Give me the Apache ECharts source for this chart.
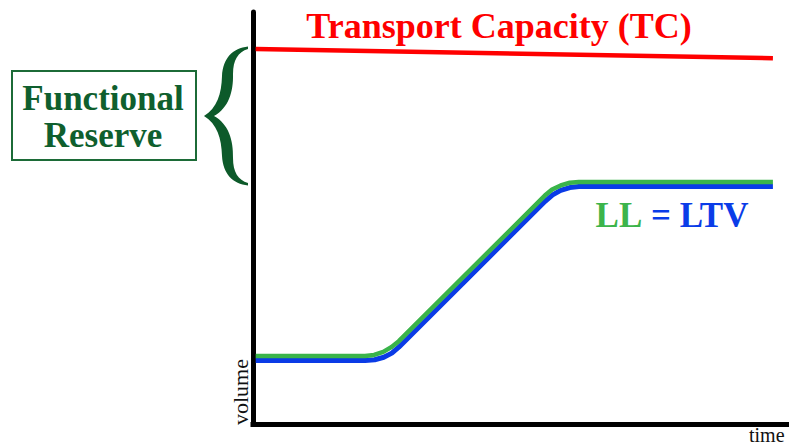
<!DOCTYPE html>
<html>
<head>
<meta charset="utf-8">
<script src="https://cdn.jsdelivr.net/npm/echarts@6/dist/echarts.min.js"></script>
<style>
html,body{margin:0;padding:0;background:#fff;}
#chart{width:789px;height:447px;}
</style>
</head>
<body>
<div id="chart"></div>
<script>
// ---- data (time in %, volume in %) ----
const tcTime   = [0.5, 97];
const tcVolume = [91.0, 88.8];

const llTime   = [0.5, 20.9, 22.6, 24.3, 25.8, 27.2, 54.5, 55.8, 57.4, 59.1, 60.8, 97];
const llVolume = [16.5, 16.5, 16.75, 17.5, 18.65, 20.1, 55.5, 56.9, 57.9, 58.55, 58.75, 58.75];

const ltvTime   = [0.5, 20.9, 22.7, 24.4, 25.9, 27.2, 54.5, 55.9, 57.4, 59.1, 60.8, 97];
const ltvVolume = [15.4, 15.4, 15.6, 16.2, 17.2, 18.65, 54.05, 55.6, 56.7, 57.4, 57.65, 57.65];

const tcLabel = 'Transport Capacity (TC)';
const reserveLines = ['Functional', 'Reserve'];
const llText = 'LL';
const ltvText = '= LTV';
const xName = 'time';
const yName = 'volume';

const zip = (a, b) => a.map((v, i) => [v, b[i]]);

const chart = echarts.init(document.getElementById('chart'), null, {renderer: 'svg'});
const serif = '"Liberation Serif", "Times New Roman", serif';
const darkGreen = '#0f5f2e';

const bracePath = 'M 248 46.5 C 233 48 223 58 222 76 C 221.5 94 217 108 204 116 C 217 124 221.5 138 222 156 C 223 174 233 184 248 185.5 L 248 183 C 238 180 233 172 233 158 C 233.5 140 228.5 124 214 116 C 228.5 108 233.5 92 233 74 C 233 60 238 52 248 49 Z';

const axisCommon = {
  type: 'value', min: 0, max: 100,
  axisTick: {show: false}, axisLabel: {show: false}, splitLine: {show: false}
};

chart.setOption({
  animation: false,
  backgroundColor: '#fff',
  grid: {left: 253, right: 0, top: 12, bottom: 23},
  xAxis: Object.assign({}, axisCommon, {
    axisLine: {show: true, lineStyle: {color: '#000', width: 5, cap: 'square'}}
  }),
  yAxis: Object.assign({}, axisCommon, {
    axisLine: {show: true, lineStyle: {color: '#000', width: 5}}
  }),
  series: [
    {type: 'line', name: 'TC', data: zip(tcTime, tcVolume), showSymbol: false,
     lineStyle: {color: '#ff0000', width: 4.5}, z: 3},
    {type: 'line', name: 'LTV', data: zip(ltvTime, ltvVolume), showSymbol: false,
     lineStyle: {color: '#0a3be6', width: 5}, z: 3},
    {type: 'line', name: 'LL', data: zip(llTime, llVolume), showSymbol: false,
     lineStyle: {color: '#3ab44a', width: 4.5}, z: 4},
    {type: 'custom', name: 'brace', coordinateSystem: 'none', data: [[0]], silent: true, z: 5,
     renderItem: function () {
       return {
         type: 'path',
         shape: {pathData: bracePath, x: 204, y: 46.5, width: 44, height: 139, layout: 'cover'},
         style: {fill: '#0d5a2a'}
       };
     }}
  ],
  graphic: [
    {type: 'text', x: 499, y: 26, z: 10,
     style: {text: tcLabel, fill: '#ff0000', fontSize: 36, fontWeight: 'bold', fontFamily: serif,
             align: 'center', verticalAlign: 'middle', textAlign: 'center', textVerticalAlign: 'middle'}},
    {type: 'rect', shape: {x: 12, y: 71, width: 184, height: 89}, z: 10,
     style: {fill: '#fff', stroke: '#1c6b37', lineWidth: 2}},
    {type: 'text', x: 103, y: 98, z: 11,
     style: {text: reserveLines[0], fill: darkGreen, fontSize: 35, fontWeight: 'bold', fontFamily: serif,
             align: 'center', verticalAlign: 'middle', textAlign: 'center', textVerticalAlign: 'middle'}},
    {type: 'text', x: 103, y: 135, z: 11,
     style: {text: reserveLines[1], fill: darkGreen, fontSize: 35, fontWeight: 'bold', fontFamily: serif,
             align: 'center', verticalAlign: 'middle', textAlign: 'center', textVerticalAlign: 'middle'}},
    {type: 'text', x: 672, y: 215, z: 10,
     style: {text: '{g|' + llText + '} {b|' + ltvText + '}',
             fontSize: 35, fontWeight: 'bold', fontFamily: serif,
             align: 'center', verticalAlign: 'middle', textAlign: 'center', textVerticalAlign: 'middle',
             rich: {
               g: {fill: '#3cb44b', color: '#3cb44b', fontSize: 35, fontWeight: 'bold', fontFamily: serif},
               b: {fill: '#0a3ce8', color: '#0a3ce8', fontSize: 35, fontWeight: 'bold', fontFamily: serif}
             }}},
    {type: 'text', x: 240, y: 392, rotation: Math.PI / 2, z: 10,
     style: {text: yName, fill: '#111', fontSize: 22, fontFamily: serif,
             align: 'center', verticalAlign: 'middle', textAlign: 'center', textVerticalAlign: 'middle'}},
    {type: 'text', x: 749, y: 435, z: 10,
     style: {text: xName, fill: '#111', fontSize: 20, fontFamily: serif,
             align: 'left', verticalAlign: 'middle', textAlign: 'left', textVerticalAlign: 'middle'}}
  ]
});
</script>
</body>
</html>
